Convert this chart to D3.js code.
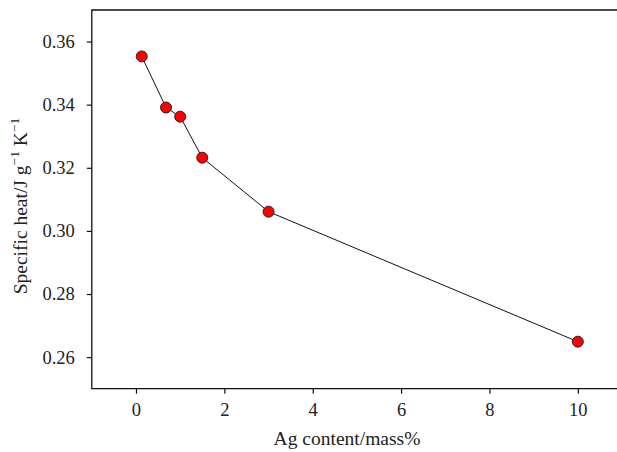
<!DOCTYPE html>
<html>
<head>
<meta charset="utf-8">
<script src="https://cdn.jsdelivr.net/npm/d3@7"></script>
<style>
  body { margin: 0; background: #fff; }
</style>
</head>
<body>
<svg id="chart" width="617" height="452"></svg>
<script>
// data
const agContent = [0.13, 0.68, 1.0, 1.5, 3.0, 10.0];
const specificHeat = [0.3553, 0.3391, 0.3362, 0.3232, 0.3061, 0.2649];
const xTicks = [0, 2, 4, 6, 8, 10];
const yTicks = [0.26, 0.28, 0.30, 0.32, 0.34, 0.36];

const serif = "'Liberation Serif', 'Times New Roman', Times, 'DejaVu Serif', serif";
const svg = d3.select("#chart").attr("font-family", serif);
const mLeft = 91.8, mTop = 10, mBottom = 388.7, mRight = 622;

const x = d3.scaleLinear().domain([-1, 11]).range([mLeft, mRight]);
const y = d3.scaleLinear().domain([0.25, 0.37]).range([mBottom, mTop]);

// frame (left, top, bottom; right edge falls off the canvas)
svg.append("path")
  .attr("d", `M${mRight},${mTop}H${mLeft}V${mBottom}H${mRight}`)
  .attr("fill", "none")
  .attr("stroke", "#111")
  .attr("stroke-width", 1.3);

const xAxis = svg.append("g")
  .attr("transform", `translate(0,${mBottom})`)
  .call(d3.axisBottom(x).tickValues(xTicks).tickSize(5).tickPadding(9).tickFormat(d3.format("d")));
const yAxis = svg.append("g")
  .attr("transform", `translate(${mLeft},0)`)
  .call(d3.axisLeft(y).tickValues(yTicks).tickSize(5).tickPadding(12).tickFormat(d3.format(".2f")));

[xAxis, yAxis].forEach(g => {
  g.attr("font-family", serif).attr("font-size", 18.5);
  g.select(".domain").remove();
  g.selectAll(".tick line").attr("stroke", "#111").attr("stroke-width", 1.2);
  g.selectAll(".tick text").attr("fill", "#222");
});

// line + markers
const pts = agContent.map((v, i) => [v, specificHeat[i]]);
svg.append("path")
  .datum(pts)
  .attr("fill", "none")
  .attr("stroke", "#111")
  .attr("stroke-width", 1)
  .attr("d", d3.line().x(d => x(d[0])).y(d => y(d[1])));

svg.append("g").selectAll("circle")
  .data(pts)
  .join("circle")
  .attr("cx", d => x(d[0]))
  .attr("cy", d => y(d[1]))
  .attr("r", 5.5)
  .attr("fill", "#ff0000")
  .attr("stroke", "#222")
  .attr("stroke-width", 1);

// axis titles
svg.append("text")
  .attr("x", 347)
  .attr("y", 445)
  .attr("text-anchor", "middle")
  .attr("font-size", 19.5)
  .attr("fill", "#222")
  .text("Ag content/mass%");

const yl = svg.append("text")
  .attr("transform", "translate(27,206) rotate(-90)")
  .attr("text-anchor", "middle")
  .attr("font-size", 19.5)
  .attr("fill", "#222");
yl.append("tspan").text("Specific heat/J g");
yl.append("tspan").attr("font-size", 13.5).attr("dy", -8).text("\u22121");
yl.append("tspan").attr("dy", 8).text(" K");
yl.append("tspan").attr("font-size", 13.5).attr("dy", -8).text("\u22121");
</script>
</body>
</html>
